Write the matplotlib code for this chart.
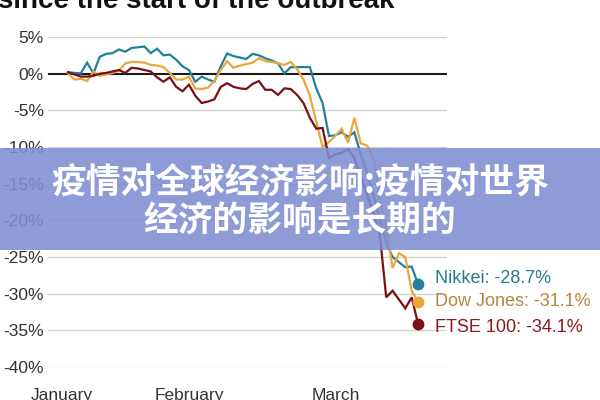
import numpy as np
import matplotlib
matplotlib.use("Agg")
import matplotlib.pyplot as plt
from matplotlib.patches import Rectangle

plt.rcParams['font.family'] = ['Liberation Sans', 'DejaVu Sans']

title = "since the start of the outbreak"
banner_lines = ["疫情对全球经济影响:疫情对世界", "经济的影响是长期的"]

months = ["January", "February", "March"]
month_pos = [-0.9, 19.0, 42.1]

nikkei = [0.2, 0.1, 0.05, 1.5, 0.05, 2.3, 2.7, 2.8, 3.3, 3.0,
          3.5, 3.6, 3.7, 2.8, 3.4, 2.5, 2.6, 1.9, 1.0, 0.5,
          -1.1, -0.4, -0.8, -1.1, 1.0, 2.75, 2.4, 2.2, 2.0, 2.7,
          2.5, 2.1, 1.8, 1.4, 0.05, 0.9, 0.9, 0.9, 0.9, -2.0,
          -4.0, -8.5, -8.4, -8.0, -8.6, -8.0, -11.0, -13.5, -16.5, -20.0,
          -23.0, -25.0, -25.7, -26.4, -26.3, -28.7]
dow = [0.05, -0.8, -0.7, -1.0, 0.3, -0.3, -0.1, 0.1, 0.4, 1.4,
       1.6, 1.6, 1.5, 1.2, 1.1, 0.9, 0.1, -0.8, -0.8, -0.4,
       -2.0, -2.1, -1.9, -1.0, 0.5, 1.7, 0.8, 1.1, 1.3, 1.5,
       2.1, 1.7, 1.6, 1.4, 1.2, 1.6, 0.6, -0.8, -3.0, -6.5,
       -10.0, -9.3, -8.5, -7.5, -9.4, -6.0, -9.5, -9.8, -11.5, -17.0,
       -21.0, -26.5, -24.5, -25.0, -29.6, -31.1]
ftse = [0.2, -0.1, -0.4, -0.4, -0.3, 0.0, 0.1, 0.3, 0.5, 0.1,
        0.8, 0.7, 0.5, 0.3, -0.5, -1.1, -0.5, -1.8, -2.4, -1.5,
        -3.0, -4.0, -3.8, -3.5, -1.8, -1.3, -1.8, -2.0, -2.1, -1.4,
        -1.0, -2.2, -2.2, -2.9, -2.0, -2.1, -2.9, -4.0, -6.0, -7.5,
        -7.4, -11.5, -11.0, -10.8, -10.3, -11.5, -14.0, -16.5, -19.0, -22.0,
        -30.5, -29.6, -30.8, -32.0, -30.5, -34.1]

series_names = ["Nikkei", "Dow Jones", "FTSE 100"]
series_vals = [nikkei, dow, ftse]
line_colors = ["#22809a", "#eaa83a", "#7b0f18"]
text_colors = ["#2b7b8e", "#b5863a", "#8a1a1e"]
label_dy = [4.0, 0.0, -2.5]

yticks = [5, 0, -5, -10, -15, -20, -25, -30, -35, -40]

W, H = 600, 400
fig = plt.figure(figsize=(6, 4), dpi=100)
fig.patch.set_facecolor("white")
ax = fig.add_axes([48 / W, 1 - 367 / H, 399 / W, 330 / H])
ax.set_facecolor("white")

x = np.arange(len(nikkei))
ax.set_xlim(-3.14, 59.55)
ax.set_ylim(-40, 5)

for yv in yticks:
    if yv != 0:
        ax.axhline(yv, color="#d2d2d2", lw=1.0, zorder=1)
ax.axhline(0, color="#1a1a1a", lw=1.5, zorder=2)

for name, vals, lc, tc, dy in zip(series_names, series_vals, line_colors, text_colors, label_dy):
    ax.plot(x, vals, color=lc, lw=1.6, zorder=3, clip_on=False, solid_joinstyle="miter")
    ax.plot([x[-1]], [vals[-1]], "o", color=lc, ms=7.5, zorder=4, clip_on=False)
    ax.annotate(f"{name}: {vals[-1]:.1f}%", xy=(x[-1], vals[-1]), xytext=(12, dy),
                textcoords="offset points", va="center", ha="left",
                color=tc, fontsize=13, annotation_clip=False)

ax.set_yticks(yticks)
ax.set_yticklabels([f"{v}%" for v in yticks], fontsize=12.5, color="#333333")
ax.set_xticks(month_pos)
ax.set_xticklabels(months, fontsize=12.5, color="#333333")
ax.tick_params(axis="y", length=0, pad=3)
ax.tick_params(axis="x", length=0, pad=15)
for s in ax.spines.values():
    s.set_visible(False)

fig.text(-2 / W, 1 - 8 / H, title, fontsize=20, fontweight="bold", color="#111111",
         ha="left", va="baseline")

fig.patches.append(Rectangle((0, 1 - 250 / H), 1, 102 / H, transform=fig.transFigure,
                             facecolor="#7d8ed2", alpha=0.88, edgecolor="none", zorder=5))
cjk = ["Noto Sans CJK SC", "DejaVu Sans"]
fig.text(0.5, 1 - 183 / H, banner_lines[0], fontsize=25, fontweight="heavy", color="white",
         ha="center", va="center", family=cjk, zorder=6)
fig.text(0.5, 1 - 221 / H, banner_lines[1], fontsize=25, fontweight="heavy", color="white",
         ha="center", va="center", family=cjk, zorder=6)

fig.savefig("out.png", dpi=100)
